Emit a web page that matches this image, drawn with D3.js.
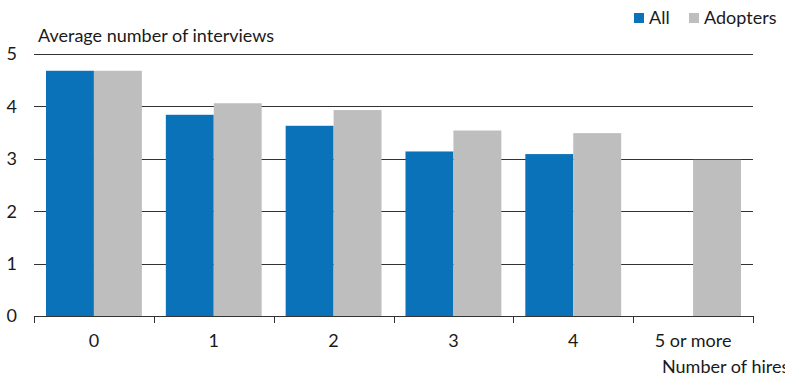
<!DOCTYPE html>
<html>
<head>
<meta charset="utf-8">
<script src="https://cdn.jsdelivr.net/npm/d3@7"></script>
<style>
  body { margin: 0; background: #fff; }
  text { font-family: Lato, "Noto Sans", sans-serif; fill: #1a1a1a; }
</style>
</head>
<body>
<div id="chart"></div>
<script>
const categories = ["0", "1", "2", "3", "4", "5 or more"];
const seriesNames = ["All", "Adopters"];
const allValues = [4.68, 3.84, 3.63, 3.14, 3.09, null];
const adopterValues = [4.68, 4.06, 3.93, 3.54, 3.49, 2.98];
const yTicks = [0, 1, 2, 3, 4, 5];
const colors = { "All": "#0a72b8", "Adopters": "#bebebe" };

const W = 785, H = 374;
const margin = { top: 54, right: 32, bottom: 58, left: 34 };
const width = W - margin.left - margin.right,
      height = H - margin.top - margin.bottom;

const svg = d3.select("#chart").append("svg")
  .attr("width", W)
  .attr("height", H);

const g = svg.append("g")
  .attr("transform", `translate(${margin.left},${margin.top})`);

const x0 = d3.scaleBand().domain(categories).range([0, width]).padding(0);
const bw = x0.bandwidth();
const x1 = d3.scaleBand().domain(seriesNames).range([bw * 0.1, bw * 0.9]).padding(0);
const y = d3.scaleLinear().domain([0, 5]).range([height, 0]);

// gridlines
g.append("g").selectAll("line")
  .data(yTicks.filter(d => d > 0))
  .enter().append("line")
  .attr("x1", 0).attr("x2", width)
  .attr("y1", d => Math.round(y(d)) + 0.5)
  .attr("y2", d => Math.round(y(d)) + 0.5)
  .attr("stroke", "#333").attr("stroke-width", 1);

// y tick labels
g.append("g").selectAll("text")
  .data(yTicks)
  .enter().append("text")
  .attr("x", -17).attr("y", d => y(d))
  .attr("dy", "0.35em")
  .attr("text-anchor", "end")
  .attr("font-size", "18px")
  .text(d => d);

// bars
const rows = categories.map((c, i) => ({ cat: c, vals: [
  { key: "All", v: allValues[i] },
  { key: "Adopters", v: adopterValues[i] }
]}));

const groups = g.selectAll(".grp").data(rows).enter().append("g")
  .attr("class", "grp")
  .attr("transform", d => `translate(${x0(d.cat)},0)`);

groups.selectAll("rect")
  .data(d => d.vals.filter(v => v.v != null))
  .enter().append("rect")
  .attr("x", d => x1(d.key))
  .attr("width", x1.bandwidth())
  .attr("y", d => y(d.v))
  .attr("height", d => height - y(d.v))
  .attr("fill", d => colors[d.key]);

// x axis
const xAxis = g.append("g")
  .attr("transform", `translate(0,${height})`);
xAxis.append("line")
  .attr("x1", 0).attr("x2", width)
  .attr("y1", 0.5).attr("y2", 0.5)
  .attr("stroke", "#333");
xAxis.selectAll(".tick")
  .data(d3.range(categories.length + 1))
  .enter().append("line")
  .attr("x1", i => Math.round(i * x0.step()) + 0.5)
  .attr("x2", i => Math.round(i * x0.step()) + 0.5)
  .attr("y1", 0).attr("y2", 7)
  .attr("stroke", "#333");
xAxis.selectAll(".lbl")
  .data(categories)
  .enter().append("text")
  .attr("x", d => x0(d) + bw / 2)
  .attr("y", 25)
  .attr("dy", "0.35em")
  .attr("text-anchor", "middle")
  .attr("font-size", "18px")
  .text(d => d);

// axis titles
svg.append("text")
  .attr("x", 38).attr("y", 42)
  .attr("font-size", "18px")
  .text("Average number of interviews");

svg.append("text")
  .attr("x", 662).attr("y", 373)
  .attr("font-size", "18px")
  .text("Number of hires");

// legend
const legend = svg.append("g").attr("transform", "translate(634,12)");
const legendX = [0, 55];
seriesNames.forEach((s, i) => {
  legend.append("rect")
    .attr("x", legendX[i]).attr("y", 1)
    .attr("width", 10).attr("height", 10)
    .attr("fill", colors[s]);
  legend.append("text")
    .attr("x", legendX[i] + 15).attr("y", 6)
    .attr("dy", "0.35em")
    .attr("font-size", "18px")
    .text(s);
});
</script>
</body>
</html>
